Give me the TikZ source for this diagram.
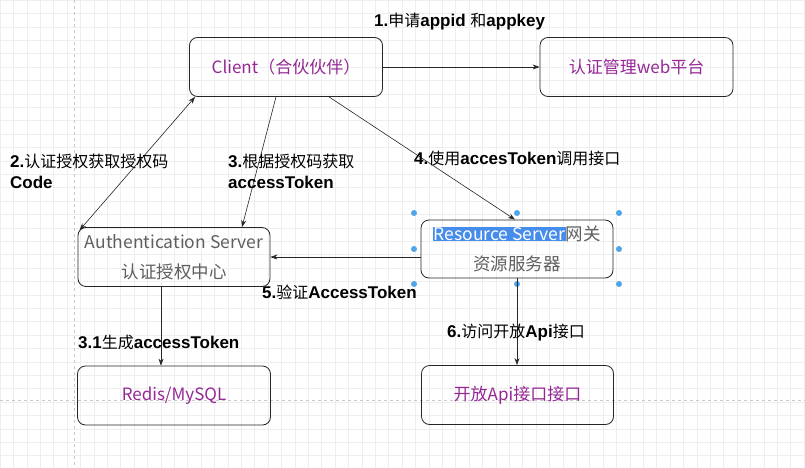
\documentclass[tikz,border=0pt]{standalone}
\usepackage{fontspec}
\setmainfont{Liberation Sans}
\newfontfamily\cjk{Noto Sans CJK SC}
\usetikzlibrary{arrows.meta,calc}
\definecolor{boxpurple}{RGB}{150,40,150}
\definecolor{boxgray}{RGB}{95,95,95}
\definecolor{gridc}{RGB}{238,238,238}
\definecolor{guide}{RGB}{200,200,200}
\definecolor{selblue}{RGB}{80,165,230}
\definecolor{hlblue}{RGB}{70,140,235}
\newcommand{\zh}[1]{{\mdseries\cjk\fontsize{16}{21}\selectfont #1}}
\tikzset{
  box/.style={draw=black!85, line width=0.8pt, rounded corners=8pt, align=center,
    font=\cjk\fontsize{17}{22}\selectfont, inner sep=0pt,
    minimum width=193pt, minimum height=59pt},
  graytxt/.style={text=boxgray, font=\cjk\fontsize{17.5}{30}\selectfont},
  lbl/.style={font=\bfseries\fontsize{17}{21}\selectfont, align=left, inner sep=0pt, anchor=west},
  arr/.style={draw=black!85, line width=0.6pt, -{Stealth[length=7pt,width=5pt]}},
  darr/.style={draw=black!85, line width=0.6pt, {Stealth[length=7pt,width=5pt]}-{Stealth[length=7pt,width=5pt]}},
  handle/.style={circle, fill=selblue, inner sep=0pt, minimum size=6pt}
}
\begin{document}
\begin{tikzpicture}[x=1pt,y=-1pt]
\useasboundingbox (0,0) rectangle (805,468);
\fill[white] (0,0) rectangle (805,468);
\draw[gridc, line width=0.5pt, step=13.4pt] (0,0) grid (805,468);
% alignment guides
\draw[guide, dashed, line width=0.5pt] (74,0) -- (74,468);
\draw[guide, dashed, line width=0.5pt] (0,400) -- (805,400);

\node[box, text=boxpurple] (client) at (286,67) {Client（合伙伙伴）};
\node[box, text=boxpurple] (web) at (636.5,67) {认证管理web平台};
\node[box, graytxt, minimum width=192pt] (auth) at (174,257) {Authentication Server\\认证授权中心};
\node[box, graytxt, minimum width=192pt, minimum height=58pt] (res) at (517,249)
  {\setlength{\fboxsep}{0.5pt}\colorbox{hlblue}{\textcolor{white}{Resource Server}}网关\\资源服务器};
\node[box, text=boxpurple] (redis) at (174,395.5) {Redis/MySQL};
\node[box, text=boxpurple, minimum width=192pt] (api) at (517.5,395) {开放Api接口接口};

% selection handles
\foreach \p [count=\i] in {(414,213),(517,213),(619,213),(414,249),(619,249),(414,284),(517,284),(619,284)}
  \node[handle] (h\i) at \p {};

% connectors
\draw[arr] (client.east) -- (web.west);
\draw[darr] ([xshift=6pt]client.south west) -- ([xshift=2pt,yshift=-3pt]auth.north west);
\draw[arr] ([xshift=-10pt]client.south) -- ([xshift=68pt]auth.north);
\draw[arr] ([xshift=43pt]client.south) -- ([xshift=-2pt]res.north);
\draw[arr] (res.west |- auth.east) -- (auth.east);
\draw[arr] ([xshift=-13pt]auth.south) -- ([xshift=-13pt]auth.south |- redis.north);
\draw[arr] (res.south) -- (res.south |- api.north);

% labels
\node[lbl] (l1) at (374,22) {1.\zh{申请}appid \zh{和}appkey};
\node[lbl] (l2) at (10,171) {2.\zh{认证授权获取授权码}\\Code};
\node[lbl] (l3) at (228,171) {3.\zh{根据授权码获取}\\accessToken};
\node[lbl] (l4) at (414,158) {4.\zh{使用}accesToken\zh{调用接口}};
\node[lbl] (l5) at (262,292) {5.\zh{验证}AccessToken};
\node[lbl] (l31) at (78,342) {3.1\zh{生成}accessToken};
\node[lbl] (l6) at (447,333) {6.\zh{访问开放}Api\zh{接口}};
\end{tikzpicture}
\end{document}
